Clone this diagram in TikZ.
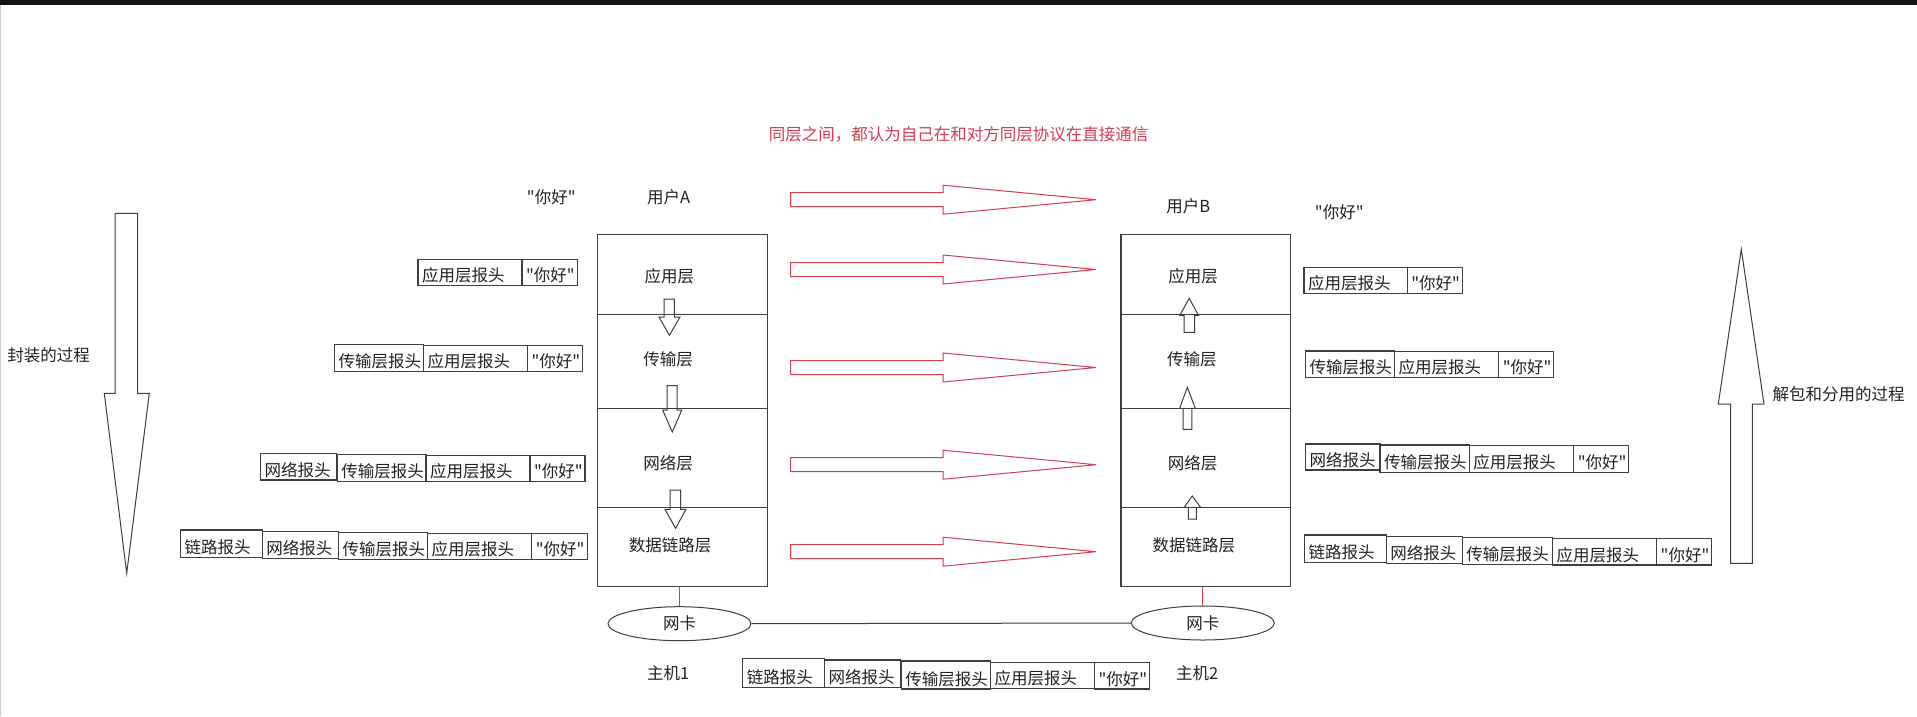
\documentclass[tikz,border=0pt]{standalone}
\usepackage{fontspec}
\setmainfont{Noto Sans CJK SC}[Ligatures=TeXOff]
\usetikzlibrary{shapes.geometric}
\definecolor{rd}{RGB}{208,62,80}
\definecolor{ln}{RGB}{62,62,62}
\definecolor{tx}{RGB}{34,34,34}
\tikzset{
  hbox/.style={draw=ln, line width=1.1pt, rectangle, inner sep=0pt, outer sep=0pt},
  htext/.style={text=tx, inner sep=0pt, outer sep=0pt},
  lbl/.style={text=tx, inner sep=0pt, outer sep=0pt},
  layer/.style={draw=ln, line width=1.1pt, rectangle, inner sep=0pt, outer sep=0pt},
  blockarrow/.style={draw=ln, line width=1pt, line join=miter},
  redarrow/.style={draw=rd, line width=1pt},
  nic/.style={draw=ln, line width=1pt, ellipse, inner sep=0pt, minimum width=143pt, minimum height=34pt, text=tx},
}
% name, x1, y1, x2, y2, text
\newcommand\hdr[6]{%
  \node[hbox, minimum width={(#4)-(#2)}, minimum height={(#5)-(#3)}] (#1) at ({((#2)+(#4))/2},{((#3)+(#5))/2}) {};
  \node[htext, anchor=base west] (#1t) at ([xshift=4pt,yshift=4pt]#1.south west) {#6};
}
\newcommand\lay[5]{%
  \node[layer, minimum width={(#4)-(#2)}, minimum height={(#5)-(#3)}] (#1) at ({((#2)+(#4))/2},{((#3)+(#5))/2}) {};
}
\newcommand\redarr[1]{%
  \draw[redarrow] (790.5,{#1-7}) -- (943,{#1-7}) -- (943,{#1-14.5}) -- (1096,#1) -- (943,{#1+14.5}) -- (943,{#1+7}) -- (790.5,{#1+7}) -- cycle;
}
\begin{document}
\begin{tikzpicture}[x=1pt,y=-1pt, font=\fontsize{16.5}{19}\selectfont]
\useasboundingbox (0,0) rectangle (1917,716);
\fill[white] (0,0) rectangle (1917,716);
\fill[black!92] (0,0) rectangle (1917,4.7);
\fill[black!20] (0,4.7) rectangle (1.3,716);

% title
\node[lbl, text=rd] (title) at (958.5,134.3) {同层之间，都认为自己在和对方同层协议在直接通信};

% users
\node[lbl] (msgA) at (551.3,197.7) {"你好"};
\node[lbl] (userA) at (668.7,197.7) {用户A};
\node[lbl] (userB) at (1188.3,206.7) {用户B};
\node[lbl] (msgB) at (1339.3,212.3) {"你好"};

% left stack
\lay{la1}{597.7}{234.7}{767.5}{314.3}
\lay{la2}{597.7}{314.3}{767.5}{408.3}
\lay{la3}{597.7}{408.3}{767.5}{507.3}
\lay{la4}{597.7}{507.3}{767.5}{586.7}
\node[lbl] (la1t) at (669.4,276.7) {应用层};
\node[lbl] (la2t) at (668,359) {传输层};
\node[lbl] (la3t) at (668,462.7) {网络层};
\node[lbl] (la4t) at (670,545) {数据链路层};

% right stack
\lay{rb1}{1121}{234.7}{1290.7}{314.3}
\lay{rb2}{1121}{314.3}{1290.7}{408.3}
\lay{rb3}{1121}{408.3}{1290.7}{507.3}
\lay{rb4}{1121}{507.3}{1290.7}{586.7}
\node[lbl] (rb1t) at (1193,276.7) {应用层};
\node[lbl] (rb2t) at (1191.8,359.3) {传输层};
\node[lbl] (rb3t) at (1192.6,462.7) {网络层};
\node[lbl] (rb4t) at (1193.8,545) {数据链路层};

% small down arrows (left)
\draw[blockarrow] (664,299) -- (674.4,299) -- (674.4,317) -- (680,317) -- (669.4,335.3) -- (659,317) -- (664,317) -- cycle;
\draw[blockarrow] (667,385.7) -- (677,385.7) -- (677,410) -- (681.8,410) -- (672.3,432) -- (662.7,410) -- (667,410) -- cycle;
\draw[blockarrow] (670,490) -- (680.6,490) -- (680.6,509.3) -- (686,509.3) -- (675.6,528.3) -- (665,509.3) -- (670,509.3) -- cycle;

% small up arrows (right)
\draw[blockarrow] (1184,332.3) -- (1194.5,332.3) -- (1194.5,315.7) -- (1198.7,315.7) -- (1189.2,298.3) -- (1179.6,315.7) -- (1184,315.7) -- cycle;
\draw[blockarrow] (1183,429.3) -- (1191.8,429.3) -- (1191.8,408.3) -- (1195.3,408.3) -- (1187.3,387.3) -- (1179.6,408.3) -- (1183,408.3) -- cycle;
\draw[blockarrow] (1188.4,519) -- (1196.4,519) -- (1196.4,507.3) -- (1200.6,507.3) -- (1192.2,496) -- (1184.2,507.3) -- (1188.4,507.3) -- cycle;

% red peer arrows
\redarr{199.7}
\redarr{269.5}
\redarr{367.5}
\redarr{464.7}
\redarr{551.7}

% big process arrows
\draw[blockarrow] (115,213.3) -- (137.7,213.3) -- (137.7,393.3) -- (149.3,393.3) -- (126.7,573.3) -- (104.3,393.3) -- (115,393.3) -- cycle;
\draw[blockarrow] (1730.7,563.3) -- (1752.3,563.3) -- (1752.3,404) -- (1764,404) -- (1741.3,249.3) -- (1718.3,404) -- (1730.7,404) -- cycle;
\node[lbl, anchor=west] (encap) at (7.3,355) {封装的过程};
\node[lbl, anchor=west] (decap) at (1772.7,394) {解包和分用的过程};

% left headers
\hdr{a1}{418}{259.3}{522}{285.7}{应用层报头}
\hdr{a2}{522}{259.3}{577.4}{285.7}{"你好"}
\hdr{b1}{334.5}{344.3}{423.6}{371.7}{传输层报头}
\hdr{b2}{423.6}{345.7}{527.6}{371.7}{应用层报头}
\hdr{b3}{527.6}{345.7}{582.7}{371.7}{"你好"}
\hdr{c1}{260.7}{453.7}{336.5}{480}{网络报头}
\hdr{c2}{337.4}{454.3}{426}{481.3}{传输层报头}
\hdr{c3}{426}{455.7}{530}{481.3}{应用层报头}
\hdr{c4}{530}{455.7}{585}{481.3}{"你好"}
\hdr{d1}{180.7}{530}{262.3}{557.7}{链路报头}
\hdr{d2}{262.3}{531.7}{338.6}{558.3}{网络报头}
\hdr{d3}{338.6}{532.3}{427.7}{559.3}{传输层报头}
\hdr{d4}{427.7}{533.3}{531.8}{559.3}{应用层报头}
\hdr{d5}{531.8}{533.3}{587.3}{559.3}{"你好"}

% right headers
\hdr{e1}{1304}{267.3}{1407.3}{293.3}{应用层报头}
\hdr{e2}{1407.3}{267.3}{1462.4}{293.3}{"你好"}
\hdr{f1}{1305.5}{351}{1394.7}{377.3}{传输层报头}
\hdr{f2}{1394.7}{351.7}{1498.8}{377.3}{应用层报头}
\hdr{f3}{1498.8}{351.7}{1553.9}{377.3}{"你好"}
\hdr{g1}{1305.5}{444}{1380}{470}{网络报头}
\hdr{g2}{1380}{445}{1469.3}{472.3}{传输层报头}
\hdr{g3}{1469.3}{445.7}{1573.8}{472.3}{应用层报头}
\hdr{g4}{1573.8}{445.7}{1628.5}{472.3}{"你好"}
\hdr{h1}{1304.7}{535}{1386.3}{562.7}{链路报头}
\hdr{h2}{1386.3}{536.7}{1462.4}{563.3}{网络报头}
\hdr{h3}{1462.4}{537.3}{1552.4}{564.7}{传输层报头}
\hdr{h4}{1552.7}{538.3}{1656.7}{565}{应用层报头}
\hdr{h5}{1656.7}{538.3}{1711.7}{565}{"你好"}

% bottom headers
\hdr{i1}{742.8}{658.7}{824.5}{687.3}{链路报头}
\hdr{i2}{824.5}{660}{900.4}{687.3}{网络报头}
\hdr{i3}{901.3}{661}{990.6}{689}{传输层报头}
\hdr{i4}{990.6}{662.3}{1094.6}{688.3}{应用层报头}
\hdr{i5}{1094.6}{662.3}{1149.5}{689}{"你好"}

% network cards
\node[nic] (nic1) at (679.5,623.7) {网卡};
\node[nic] (nic2) at (1202.8,623) {网卡};
\draw[ln, line width=1pt] (nic1.east) -- (nic2.west);
\draw[rd, line width=1pt] (nic1.north) -- (nic1.north |- la4.south);
\draw[rd, line width=1pt] (nic2.north) -- (nic2.north |- rb4.south);
\node[lbl] (host1) at (668.3,673.3) {主机1};
\node[lbl] (host2) at (1197.3,673.3) {主机2};
\end{tikzpicture}
\end{document}
